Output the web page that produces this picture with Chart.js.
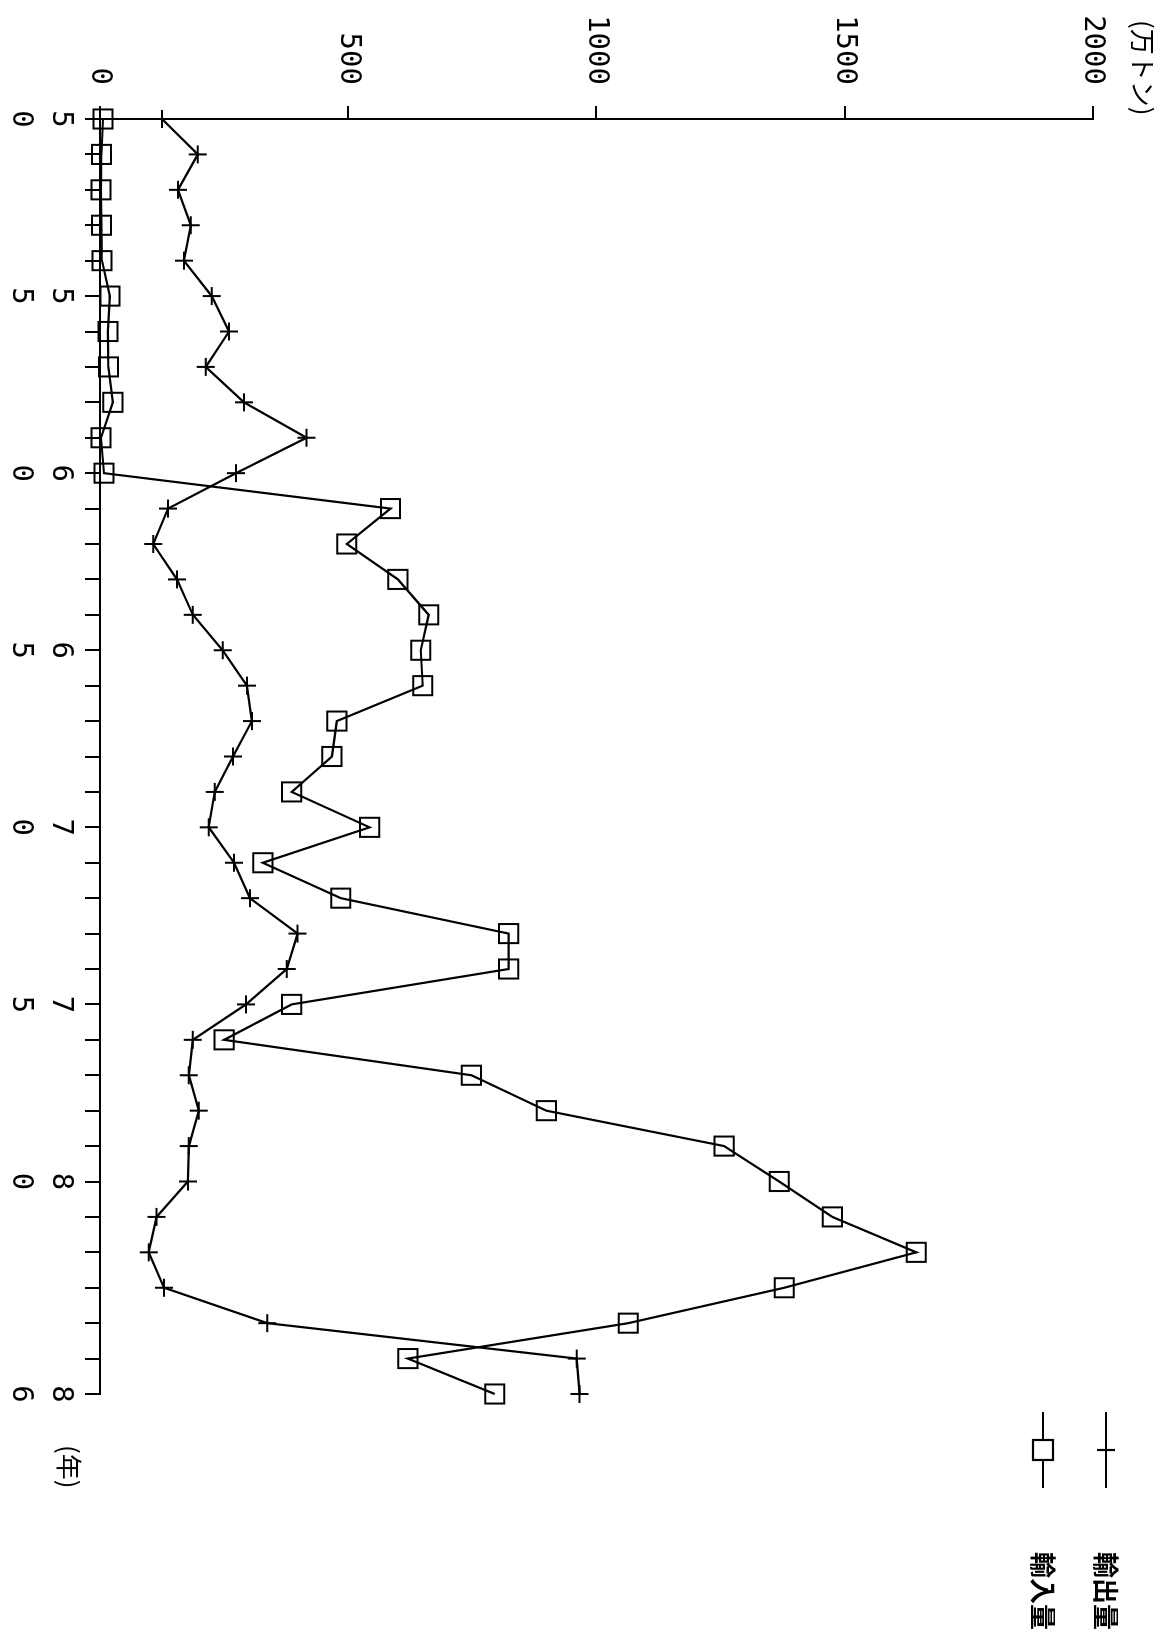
<!DOCTYPE html>
<html>
<head>
<meta charset="utf-8">
<script src="https://cdn.jsdelivr.net/npm/chart.js@4"></script>
<style>
  html, body { margin: 0; padding: 0; background: #fff; overflow: hidden; }
  body { width: 1167px; height: 1633px; position: relative; }
  /* the reference is a plotter sheet turned a quarter turn clockwise */
  #sheet {
    position: absolute; left: 0; top: 0;
    width: 1633px; height: 1167px;
    transform-origin: 0 0;
    transform: translate(1167px, 0) rotate(90deg);
  }
</style>
</head>
<body>
<div id="sheet"><canvas id="chart" width="1633" height="1167"></canvas></div>
<script>
// years (19xx)
const years = [50, 51, 52, 53, 54, 55, 56, 57, 58, 59,
               60, 61, 62, 63, 64, 65, 66, 67, 68, 69,
               70, 71, 72, 73, 74, 75, 76, 77, 78, 79,
               80, 81, 82, 83, 84, 85, 86];
const labeledYears = [50, 55, 60, 65, 70, 75, 80, 86];
const valueTicks = [0, 500, 1000, 1500, 2000];

// 輸出量 (万トン)
const exportValues = [125, 197, 157, 183, 169, 225, 260, 213, 290, 416,
                      274, 137, 107, 155, 187, 247, 296, 306, 268, 231,
                      219, 270, 302, 398, 376, 294, 187, 179, 199, 179,
                      177, 114, 98, 129, 337, 960, 966];
// 輸入量 (万トン)
const importValues = [6, 3, 2, 3, 4, 20, 16, 17, 26, 2,
                      8, 585, 497, 600, 662, 646, 650, 477, 467, 386,
                      543, 328, 485, 823, 823, 386, 250, 748, 899, 1257,
                      1368, 1475, 1644, 1378, 1064, 620, 795];

const seriesNames = ["輸出量", "輸入量"];

const monoFont = "'DejaVu Sans Mono', 'Liberation Mono', monospace";
const cjkFont = "'Noto Sans CJK JP', 'Noto Sans CJK SC', sans-serif";

// legend + unit captions, drawn like the plotter did
const captions = {
    id: "captions",
    afterDraw(chart) {
        const ctx = chart.ctx;
        ctx.save();
        ctx.fillStyle = "#000";
        ctx.strokeStyle = "#000";
        ctx.textBaseline = "middle";
        ctx.font = "26px " + cjkFont;
        ctx.textAlign = "left";
        ctx.fillText("(万トン)", 20, 24);
        ctx.fillText("(年)", 1445, 1098);

        const rows = [61, 124];
        chart.data.datasets.forEach((ds, i) => {
            const y = rows[i];
            ctx.lineWidth = 2.2;
            ctx.beginPath();
            ctx.moveTo(1412, y);
            ctx.lineTo(1488, y);
            ctx.stroke();
            if (ds.pointStyle === "cross") {
                ctx.beginPath();
                ctx.moveTo(1450, y - 9);
                ctx.lineTo(1450, y + 9);
                ctx.stroke();
            } else {
                ctx.fillStyle = "#fff";
                ctx.fillRect(1440, y - 10, 20, 20);
                ctx.strokeRect(1440, y - 10, 20, 20);
                ctx.fillStyle = "#000";
            }
            ctx.font = "bold 26px " + cjkFont;
            ctx.fillText(ds.label, 1552, y);
        });
        ctx.restore();
    }
};

const ctx = document.getElementById("chart").getContext("2d");
new Chart(ctx, {
    type: "line",
    data: {
        datasets: [{
            label: seriesNames[0],
            data: years.map((yr, i) => ({ x: yr, y: exportValues[i] })),
            borderColor: "#000",
            borderWidth: 2.2,
            pointStyle: "cross",
            pointRadius: 9,
            pointBorderWidth: 2,
            pointBorderColor: "#000",
            tension: 0,
            clip: false
        }, {
            label: seriesNames[1],
            data: years.map((yr, i) => ({ x: yr, y: importValues[i] })),
            borderColor: "#000",
            borderWidth: 2.2,
            pointStyle: "rect",
            pointRadius: 13.5,
            pointBorderWidth: 2,
            pointBorderColor: "#000",
            pointBackgroundColor: "rgba(0,0,0,0)",
            tension: 0,
            clip: false
        }]
    },
    options: {
        responsive: false,
        animation: false,
        layout: { padding: { left: 0, top: 74, right: 239, bottom: 0 } },
        plugins: { legend: { display: false }, tooltip: { enabled: false } },
        scales: {
            x: {
                type: "linear",
                position: "bottom",
                min: 50,
                max: 86,
                afterBuildTicks: scale => { scale.ticks = years.map(v => ({ value: v })); },
                afterFit: scale => { scale.height = 100; },
                ticks: {
                    autoSkip: false,
                    maxRotation: 0,
                    padding: 4,
                    color: "#000",
                    font: { family: monoFont, size: 29, lineHeight: 1.38 },
                    callback: v => labeledYears.includes(v) ? String(v).split("") : ""
                },
                grid: { drawOnChartArea: false, drawTicks: true, tickLength: 15, color: "#000", lineWidth: 2 },
                border: { display: true, color: "#000", width: 2, dash: [14, 3, 3, 3] }
            },
            y: {
                type: "linear",
                position: "left",
                min: 0,
                max: 2000,
                afterBuildTicks: scale => { scale.ticks = valueTicks.map(v => ({ value: v })); },
                afterFit: scale => { scale.width = 119; },
                ticks: {
                    padding: 21,
                    color: "#000",
                    font: { family: monoFont, size: 29 },
                    callback: v => String(v)
                },
                grid: { drawOnChartArea: false, drawTicks: true, tickLength: 13, color: "#000", lineWidth: 2 },
                border: { display: true, color: "#000", width: 2, dash: [24, 4] }
            }
        }
    },
    plugins: [captions]
});
</script>
</body>
</html>
